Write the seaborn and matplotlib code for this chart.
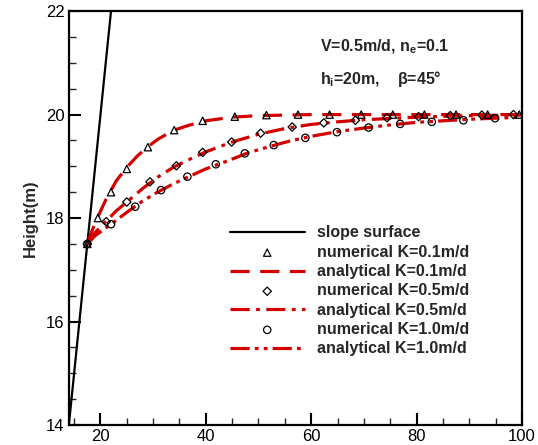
import numpy as np
import pandas as pd
import matplotlib
matplotlib.use("Agg")
import matplotlib.pyplot as plt
import seaborn as sns

# ---- data ----
slope_x = [14, 22]
slope_y = [14, 22]

num01_x = [17.5, 19.5, 22.0, 25.0, 29.0, 34.0, 39.4, 45.5, 51.5, 57.5, 63.5, 69.5, 75.5, 81.5, 87.5, 93.5, 99.5]
num01_y = [17.5, 18.0, 18.5, 18.95, 19.37, 19.70, 19.88, 19.96, 19.99, 20.0, 20.0, 20.0, 20.0, 20.0, 20.0, 20.0, 20.0]

ana01_x = [17.5, 18.5, 19.5, 21, 23, 25, 27, 29, 31, 34, 37, 40, 45, 50, 60, 70, 80, 90, 100]
ana01_y = [17.5, 17.78, 18.02, 18.35, 18.72, 18.98, 19.2, 19.38, 19.53, 19.7, 19.8, 19.88, 19.95, 19.98, 20.0, 20.0, 20.0, 20.0, 20.0]

num05_x = [17.5, 21.1, 25.0, 29.4, 34.4, 39.4, 44.9, 50.4, 56.4, 62.4, 68.4, 74.4, 80.4, 86.4, 92.4, 98.4]
num05_y = [17.5, 17.93, 18.31, 18.70, 19.01, 19.27, 19.47, 19.64, 19.76, 19.84, 19.89, 19.94, 19.96, 19.98, 19.99, 20.0]

ana05_x = [17.5, 19, 21, 23, 25, 28, 31, 34, 37, 40, 45, 50, 55, 60, 65, 70, 80, 90, 100]
ana05_y = [17.5, 17.72, 17.93, 18.14, 18.31, 18.57, 18.8, 18.99, 19.14, 19.28, 19.47, 19.62, 19.73, 19.81, 19.86, 19.9, 19.95, 19.98, 19.99]

num10_x = [17.5, 22.0, 26.6, 31.5, 36.5, 41.9, 47.4, 52.9, 58.9, 64.9, 70.9, 76.9, 82.9, 88.9, 94.9]
num10_y = [17.5, 17.88, 18.22, 18.54, 18.80, 19.04, 19.25, 19.41, 19.55, 19.66, 19.75, 19.82, 19.86, 19.89, 19.93]

ana10_x = [17.5, 19, 22, 25, 28, 31, 34, 37, 40, 44, 48, 52, 56, 60, 65, 70, 75, 80, 85, 90, 95, 100]
ana10_y = [17.5, 17.66, 17.88, 18.11, 18.33, 18.51, 18.67, 18.81, 18.95, 19.1, 19.26, 19.38, 19.49, 19.58, 19.67, 19.74, 19.8, 19.85, 19.88, 19.91, 19.93, 19.95]

labels = ["slope surface", "numerical K=0.1m/d", "analytical K=0.1m/d",
          "numerical K=0.5m/d", "analytical K=0.5m/d",
          "numerical K=1.0m/d", "analytical K=1.0m/d"]

# ---- style ----
sns.set_theme(style="white")
plt.rcParams['font.family'] = ['Liberation Sans', 'DejaVu Sans']
plt.rcParams['mathtext.fontset'] = 'custom'
plt.rcParams['mathtext.rm'] = 'Liberation Sans'
plt.rcParams['mathtext.bf'] = 'Liberation Sans:bold'

fig = plt.figure(figsize=(5.38, 4.45), dpi=100)
ax = fig.add_axes([0.128, 0.045, 0.842, 0.930])

red = "#d40000"
mk = dict(facecolor="none", edgecolor="black", linewidth=0.9, s=28)

sns.lineplot(x=slope_x, y=slope_y, ax=ax, color="black", linewidth=1.6, label=labels[0], sort=False)
sns.scatterplot(x=num01_x, y=num01_y, ax=ax, marker="^", label=labels[1], zorder=4, **mk)
sns.lineplot(x=ana01_x, y=ana01_y, ax=ax, color=red, linewidth=2.3, linestyle=(0, (6, 3.3)), label=labels[2], sort=False)
sns.scatterplot(x=num05_x, y=num05_y, ax=ax, marker="D", label=labels[3], zorder=4,
                facecolor="none", edgecolor="black", linewidth=0.9, s=18)
sns.lineplot(x=ana05_x, y=ana05_y, ax=ax, color=red, linewidth=2.3, linestyle=(0, (6, 2, 1.2, 2)), label=labels[4], sort=False)
sns.scatterplot(x=num10_x, y=num10_y, ax=ax, marker="o", label=labels[5], zorder=4, **mk)
sns.lineplot(x=ana10_x, y=ana10_y, ax=ax, color=red, linewidth=2.3, linestyle=(0, (6, 1.6, 1.2, 1.6, 1.2, 1.6)), label=labels[6], sort=False)

ax.set_xlim(14, 100)
ax.set_ylim(14, 22)
ax.set_xticks([20, 40, 60, 80, 100])
ax.set_yticks([14, 16, 18, 20, 22])
ax.set_xticks(np.arange(15, 100, 5), minor=True)
ax.set_yticks(np.arange(14, 22, 0.5), minor=True)
ax.tick_params(axis='both', which='major', direction='in', length=8.5, width=1.5,
               labelsize=12, colors='black', pad=3, bottom=True, left=True)
ax.tick_params(axis='both', which='minor', direction='in', length=5, width=1.0,
               bottom=True, left=True)
for s in ax.spines.values():
    s.set_color("black")
    s.set_linewidth(1.6)
ax.set_xlabel("")
ax.set_ylabel("Height(m)", fontsize=12, fontweight="bold", labelpad=6)

ax.text(0.554, 0.915, r"V=0.5m/d, n$_\mathbf{e}$=0.1", transform=ax.transAxes,
        fontsize=11.5, fontweight="bold", va="center", ha="left")
ax.text(0.554, 0.835, r"h$_\mathbf{i}$=20m,    β=45°", transform=ax.transAxes,
        fontsize=11.5, fontweight="bold", va="center", ha="left")

leg = ax.legend(loc="upper left", bbox_to_anchor=(0.355, 0.482), frameon=False,
                fontsize=11.5, handlelength=4.7, handletextpad=0.75, labelspacing=0.27,
                borderpad=0, borderaxespad=0)
for t in leg.get_texts():
    t.set_fontweight("bold")

fig.savefig("out.png", dpi=100)
